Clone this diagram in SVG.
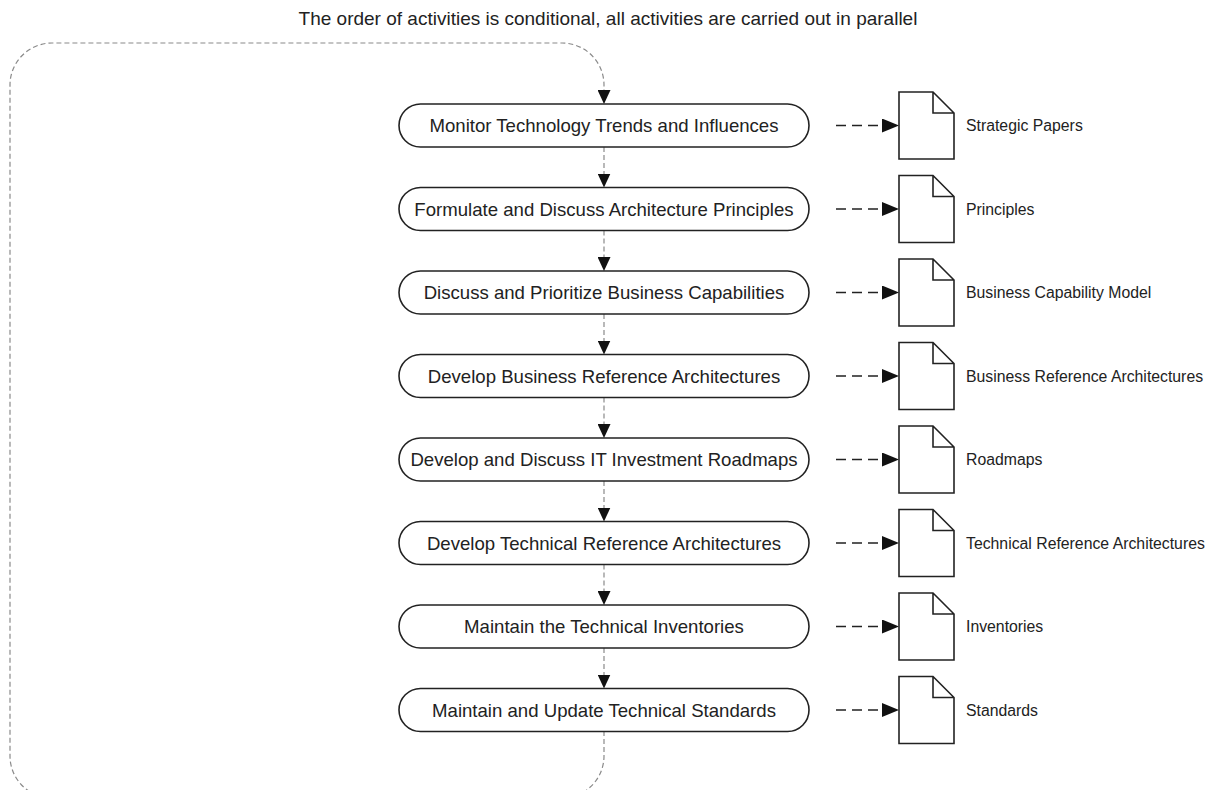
<svg xmlns="http://www.w3.org/2000/svg" width="1217" height="790" viewBox="0 0 1217 790">
  <style>
    .bg { fill: #ffffff; }
    .title { font-family: "Liberation Sans", Arial, sans-serif; font-size: 19px; fill: #222; text-anchor: middle; }
    .pill { fill: #ffffff; stroke: #222; stroke-width: 1.6; }
    .pill-text { font-family: "Liberation Sans", Arial, sans-serif; font-size: 18.6px; fill: #222; text-anchor: middle; }
    .doc { fill: #ffffff; stroke: #222; stroke-width: 1.6; stroke-linejoin: miter; }
    .doc-text { font-family: "Liberation Sans", Arial, sans-serif; font-size: 15.8px; fill: #222; }
    .flow { fill: none; stroke: #8a8a8a; stroke-width: 1.2; stroke-dasharray: 5 3; }
    .out { fill: none; stroke: #222; stroke-width: 1.6; stroke-dasharray: 10 6; }
  </style>
  <defs>
    <marker id="arrow" markerUnits="userSpaceOnUse" markerWidth="17" markerHeight="14" refX="17" refY="7" orient="auto">
      <path d="M0,0 L17,7 L0,14 Z" fill="#111"/>
    </marker>
    <marker id="arrowV" markerUnits="userSpaceOnUse" markerWidth="14" markerHeight="13" refX="14" refY="6.5" orient="auto">
      <path d="M0,0 L14,6.5 L0,13 Z" fill="#111"/>
    </marker>
  </defs>

  <rect class="bg" x="0" y="0" width="1217" height="790"/>

  <text class="title" x="608" y="25">The order of activities is conditional, all activities are carried out in parallel</text>

  <!-- connectors -->
  <g id="connectors">
    <!-- feedback loop from the last activity back to the first -->
    <path class="flow" d="M604,731 V756 A42,42 0 0 1 562,798 H52 A42,42 0 0 1 10,756 V85 A42,42 0 0 1 52,43 H562 A42,42 0 0 1 604,85 V104" marker-end="url(#arrowV)"/>
    <!-- sequence between activities -->
    <path class="flow" d="M604,147 V187.5" marker-end="url(#arrowV)"/>
    <path class="flow" d="M604,230.5 V271" marker-end="url(#arrowV)"/>
    <path class="flow" d="M604,314 V354.5" marker-end="url(#arrowV)"/>
    <path class="flow" d="M604,397.5 V438" marker-end="url(#arrowV)"/>
    <path class="flow" d="M604,481 V521.5" marker-end="url(#arrowV)"/>
    <path class="flow" d="M604,564.5 V605" marker-end="url(#arrowV)"/>
    <path class="flow" d="M604,648 V688.5" marker-end="url(#arrowV)"/>
    <!-- outputs -->
    <path class="out" d="M836,125.5 H899" marker-end="url(#arrow)"/>
    <path class="out" d="M836,209 H899" marker-end="url(#arrow)"/>
    <path class="out" d="M836,292.5 H899" marker-end="url(#arrow)"/>
    <path class="out" d="M836,376 H899" marker-end="url(#arrow)"/>
    <path class="out" d="M836,459.5 H899" marker-end="url(#arrow)"/>
    <path class="out" d="M836,543 H899" marker-end="url(#arrow)"/>
    <path class="out" d="M836,626.5 H899" marker-end="url(#arrow)"/>
    <path class="out" d="M836,710 H899" marker-end="url(#arrow)"/>
  </g>

  <!-- activities -->
  <g id="act-monitor">
    <rect class="pill" x="399" y="104" width="410" height="43" rx="21.5"/>
    <text class="pill-text" x="604" y="132">Monitor Technology Trends and Influences</text>
  </g>
  <g id="act-principles">
    <rect class="pill" x="399" y="187.5" width="410" height="43" rx="21.5"/>
    <text class="pill-text" x="604" y="215.5">Formulate and Discuss Architecture Principles</text>
  </g>
  <g id="act-capabilities">
    <rect class="pill" x="399" y="271" width="410" height="43" rx="21.5"/>
    <text class="pill-text" x="604" y="299">Discuss and Prioritize Business Capabilities</text>
  </g>
  <g id="act-business-ra">
    <rect class="pill" x="399" y="354.5" width="410" height="43" rx="21.5"/>
    <text class="pill-text" x="604" y="382.5">Develop Business Reference Architectures</text>
  </g>
  <g id="act-roadmaps">
    <rect class="pill" x="399" y="438" width="410" height="43" rx="21.5"/>
    <text class="pill-text" x="604" y="466">Develop and Discuss IT Investment Roadmaps</text>
  </g>
  <g id="act-technical-ra">
    <rect class="pill" x="399" y="521.5" width="410" height="43" rx="21.5"/>
    <text class="pill-text" x="604" y="549.5">Develop Technical Reference Architectures</text>
  </g>
  <g id="act-inventories">
    <rect class="pill" x="399" y="605" width="410" height="43" rx="21.5"/>
    <text class="pill-text" x="604" y="633">Maintain the Technical Inventories</text>
  </g>
  <g id="act-standards">
    <rect class="pill" x="399" y="688.5" width="410" height="43" rx="21.5"/>
    <text class="pill-text" x="604" y="716.5">Maintain and Update Technical Standards</text>
  </g>

  <!-- output documents -->
  <g id="doc-strategic">
    <path class="doc" d="M899,92 H933 L954,113 V159 H899 Z M933,92 V113 H954"/>
    <text class="doc-text" x="966" y="131">Strategic Papers</text>
  </g>
  <g id="doc-principles">
    <path class="doc" d="M899,175.5 H933 L954,196.5 V242.5 H899 Z M933,175.5 V196.5 H954"/>
    <text class="doc-text" x="966" y="214.5">Principles</text>
  </g>
  <g id="doc-capability-model">
    <path class="doc" d="M899,259 H933 L954,280 V326 H899 Z M933,259 V280 H954"/>
    <text class="doc-text" x="966" y="298">Business Capability Model</text>
  </g>
  <g id="doc-business-ra">
    <path class="doc" d="M899,342.5 H933 L954,363.5 V409.5 H899 Z M933,342.5 V363.5 H954"/>
    <text class="doc-text" x="966" y="381.5">Business Reference Architectures</text>
  </g>
  <g id="doc-roadmaps">
    <path class="doc" d="M899,426 H933 L954,447 V493 H899 Z M933,426 V447 H954"/>
    <text class="doc-text" x="966" y="465">Roadmaps</text>
  </g>
  <g id="doc-technical-ra">
    <path class="doc" d="M899,509.5 H933 L954,530.5 V576.5 H899 Z M933,509.5 V530.5 H954"/>
    <text class="doc-text" x="966" y="548.5">Technical Reference Architectures</text>
  </g>
  <g id="doc-inventories">
    <path class="doc" d="M899,593 H933 L954,614 V660 H899 Z M933,593 V614 H954"/>
    <text class="doc-text" x="966" y="632">Inventories</text>
  </g>
  <g id="doc-standards">
    <path class="doc" d="M899,676.5 H933 L954,697.5 V743.5 H899 Z M933,676.5 V697.5 H954"/>
    <text class="doc-text" x="966" y="715.5">Standards</text>
  </g>
</svg>
